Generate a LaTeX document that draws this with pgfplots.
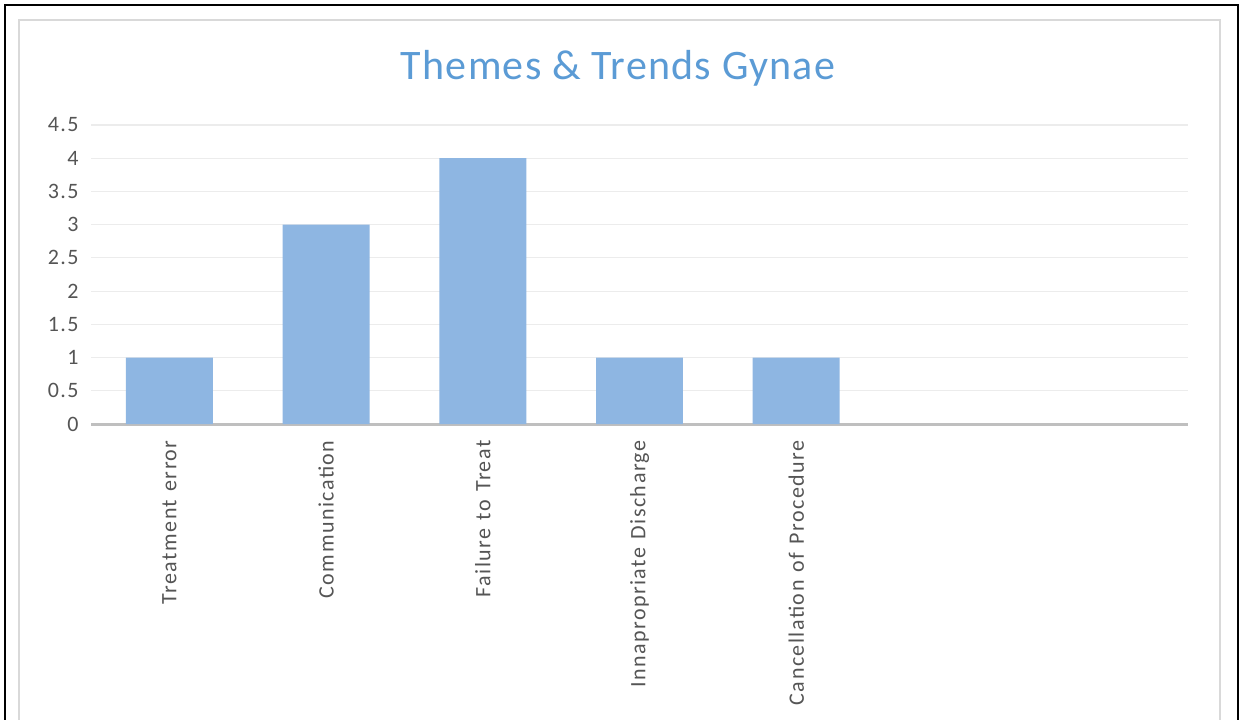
\documentclass[border=0pt]{standalone}
\usepackage{pgfplots}
\pgfplotsset{compat=1.18}
\usepackage{fontspec}
\setmainfont{Carlito}
\newfontfamily\labfont[LetterSpace=6.8,WordSpace=1.25]{Carlito}
\newfontfamily\titlefont[LetterSpace=3]{Carlito}
\definecolor{barblue}{RGB}{142,182,226}
\definecolor{titleblue}{RGB}{91,155,213}
\definecolor{ticktext}{RGB}{85,85,85}
\definecolor{gridgray}{RGB}{236,236,236}
\definecolor{axisgray}{RGB}{191,191,191}
\definecolor{framegray}{RGB}{217,217,217}
\begin{document}
\begin{tikzpicture}
\useasboundingbox (0,0) rectangle (620.5pt,359.5pt);
\draw[black, line width=1.2pt] (2.5pt,-5pt) -- (2.5pt,357pt) -- (619pt,357pt) -- (619pt,-5pt);
\draw[framegray, line width=0.8pt] (9.5pt,-5pt) -- (9.5pt,349.5pt) -- (610pt,349.5pt) -- (610pt,-5pt);
\node[anchor=base, text=titleblue, font=\titlefont\fontsize{21}{25}\selectfont] at (309pt,319.5pt) {Themes \& Trends Gynae};
\begin{axis}[
  at={(45.5pt,147.5pt)}, anchor=south west,
  width=548.5pt, height=149.5pt, scale only axis,
  xmin=-0.5, xmax=6.5, ymin=0, ymax=4.5,
  ytick={0,0.5,1,1.5,2,2.5,3,3.5,4,4.5},
  yticklabels={0,0.5,1,1.5,2,2.5,3,3.5,4,4.5},
  xtick={0,1,2,3,4},
  xticklabels={Treatment error,Communication,Failure to Treat,Innapropriate Discharge,Cancellation of Procedure},
  axis x line*=bottom, axis y line*=left,
  x axis line style={draw=axisgray, line width=1.5pt, -},
  y axis line style={draw=none},
  major tick length=0pt,
  ymajorgrids, grid style={draw=gridgray, line width=0.6pt},
  yticklabel style={anchor=east, inner sep=0pt, xshift=-6pt, text=ticktext, font=\labfont\fontsize{11}{13}\selectfont},
  xticklabel style={rotate=90, anchor=east, inner sep=0pt, text=ticktext, font=\labfont\fontsize{11}{13}\selectfont},
  xticklabel shift=8pt,
  ybar, bar width=0.555,
]
\addplot[fill=barblue, draw=none] coordinates {(0,1) (1,3) (2,4) (3,1) (4,1)};
\end{axis}
\end{tikzpicture}
\end{document}
